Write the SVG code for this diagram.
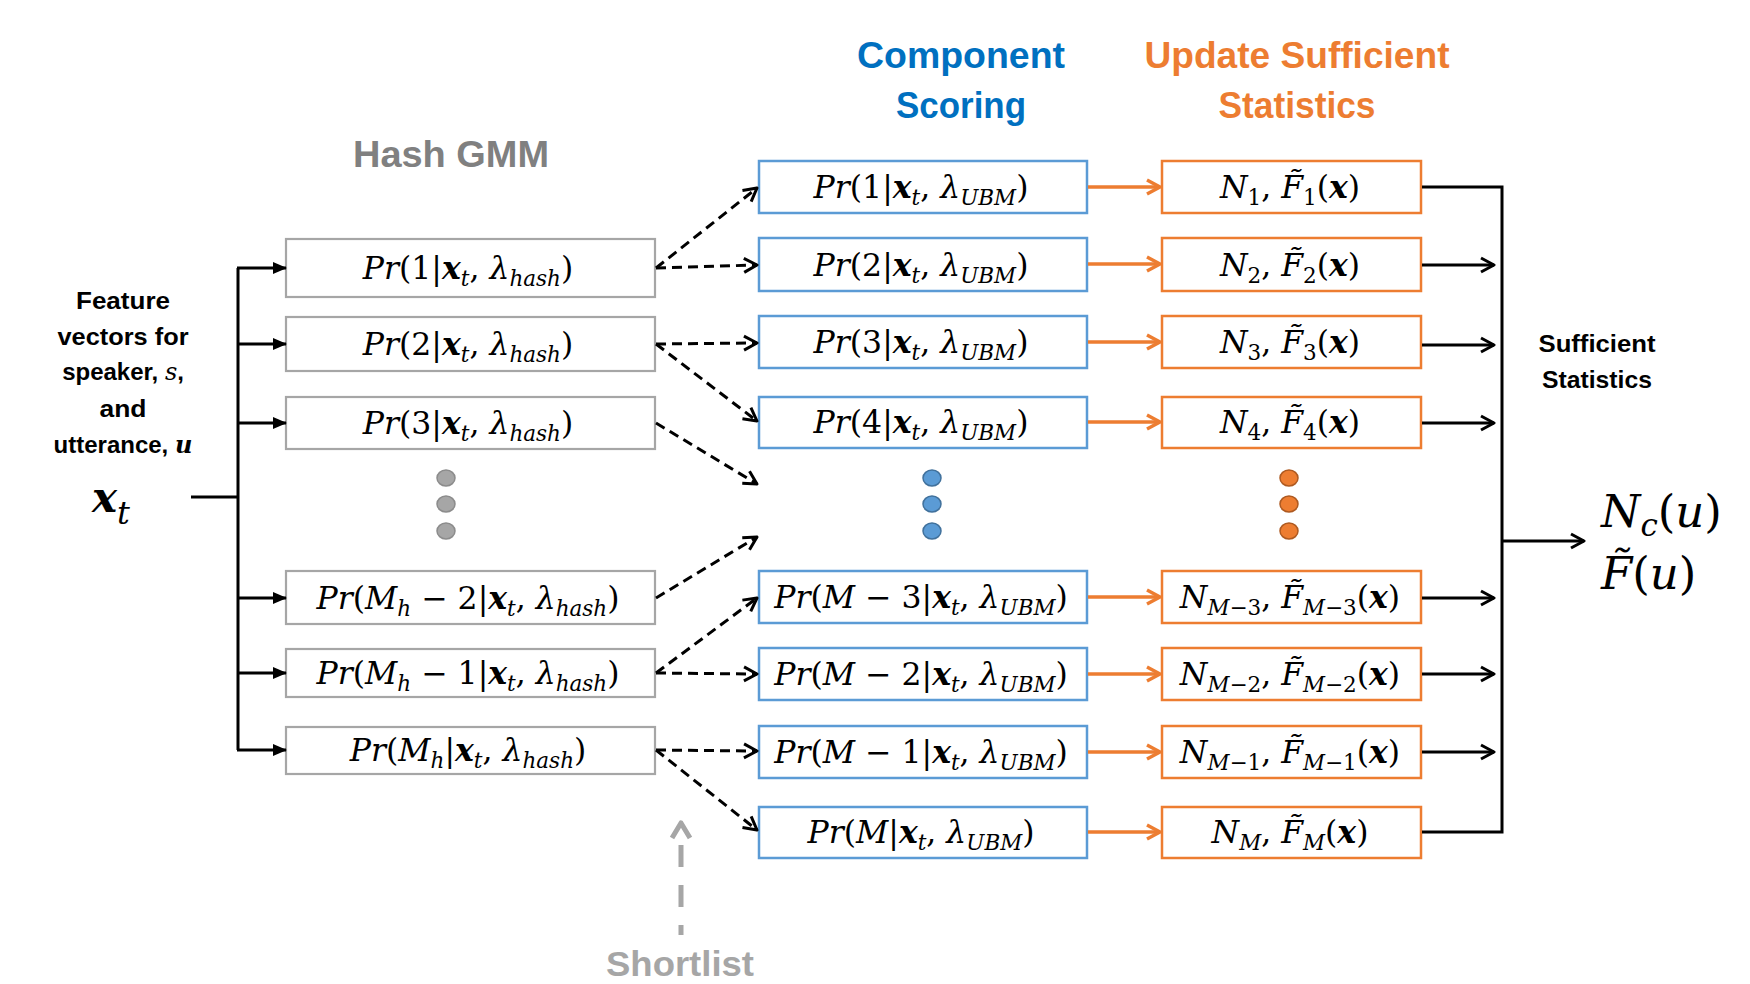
<svg xmlns="http://www.w3.org/2000/svg" width="1750" height="984" viewBox="0 0 1750 984">
  <style>
    .hb { fill: #fff; stroke: #A6A6A6; stroke-width: 2.2; }
    .ub { fill: #fff; stroke: #5B9BD5; stroke-width: 2.5; }
    .sb { fill: #fff; stroke: #ED7D31; stroke-width: 2.5; }
    .m { font-family: "DejaVu Serif", "Liberation Serif", serif; font-style: italic; font-size: 31.5px; fill: #000; text-anchor: middle; }
    .n { font-style: normal; }
    .b { font-weight: bold; }
    .s { font-size: 21.5px; }
    .lbl { font-family: "Liberation Sans", Arial, sans-serif; font-weight: bold; text-anchor: middle; }
    .blk { fill: none; stroke: #000; stroke-width: 3; }
    .dash { fill: none; stroke: #000; stroke-width: 3; stroke-dasharray: 10 6; }
    .org { fill: none; stroke: #ED7D31; stroke-width: 3.5; }
  </style>
  <defs>
    <marker id="tri" markerUnits="userSpaceOnUse" viewBox="0 0 14 14" markerWidth="14" markerHeight="14" refX="13" refY="7" orient="auto">
      <path d="M0,1 L14,7 L0,13 z" fill="#000"/>
    </marker>
    <marker id="vBlack" markerUnits="userSpaceOnUse" viewBox="0 0 18 18" markerWidth="18" markerHeight="18" refX="16" refY="9" orient="auto">
      <path d="M3,2 L16,9 L3,16" fill="none" stroke="#000" stroke-width="3" stroke-linejoin="round" stroke-dasharray="none"/>
    </marker>
    <marker id="vOrange" markerUnits="userSpaceOnUse" viewBox="0 0 18 18" markerWidth="18" markerHeight="18" refX="16" refY="9" orient="auto">
      <path d="M3,2 L16,9 L3,16" fill="none" stroke="#ED7D31" stroke-width="3.5" stroke-linejoin="round"/>
    </marker>
  </defs>

  <rect width="1750" height="984" fill="#fff"/>

  <!-- column headings -->
  <g id="titles">
    <text class="lbl" x="451" y="167" font-size="37" fill="#808080" textLength="196" lengthAdjust="spacingAndGlyphs">Hash GMM</text>
    <text class="lbl" x="961" y="68" font-size="36" fill="#0070C0" textLength="208" lengthAdjust="spacingAndGlyphs">Component</text>
    <text class="lbl" x="961" y="118" font-size="36" fill="#0070C0" textLength="130" lengthAdjust="spacingAndGlyphs">Scoring</text>
    <text class="lbl" x="1297" y="68" font-size="36" fill="#ED7D31" textLength="305" lengthAdjust="spacingAndGlyphs">Update Sufficient</text>
    <text class="lbl" x="1297" y="118" font-size="36" fill="#ED7D31" textLength="157" lengthAdjust="spacingAndGlyphs">Statistics</text>
  </g>

  <!-- input description -->
  <g id="input">
    <text class="lbl" x="123" y="309" font-size="24" textLength="94" lengthAdjust="spacingAndGlyphs">Feature</text>
    <text class="lbl" x="123" y="345" font-size="24" textLength="131" lengthAdjust="spacingAndGlyphs">vectors for</text>
    <text class="lbl" x="123" y="380" font-size="24">speaker, <tspan font-family="DejaVu Serif, serif" font-style="italic" font-weight="normal">s</tspan>,</text>
    <text class="lbl" x="123" y="417" font-size="24" textLength="47" lengthAdjust="spacingAndGlyphs">and</text>
    <text class="lbl" x="123" y="453" font-size="24">utterance, <tspan font-family="DejaVu Serif, serif" font-style="italic">u</tspan></text>
    <text x="92" y="512" font-family="DejaVu Serif, serif" font-style="italic" font-weight="bold" font-size="42">x<tspan font-weight="normal" font-size="32" dy="12">t</tspan></text>
  </g>

  <!-- hash GMM components -->
  <g id="hash1">
    <rect class="hb" x="286" y="239" width="369" height="58"/>
    <text class="m" x="468" y="279">Pr<tspan class="n">(1|</tspan><tspan class="b">x</tspan><tspan class="s" dy="7">t</tspan><tspan class="n" dy="-7">, </tspan>λ<tspan class="s" dy="7">hash</tspan><tspan class="n" dy="-7">)</tspan></text>
  </g>
  <g id="hash2">
    <rect class="hb" x="286" y="317" width="369" height="54"/>
    <text class="m" x="468" y="355">Pr<tspan class="n">(2|</tspan><tspan class="b">x</tspan><tspan class="s" dy="7">t</tspan><tspan class="n" dy="-7">, </tspan>λ<tspan class="s" dy="7">hash</tspan><tspan class="n" dy="-7">)</tspan></text>
  </g>
  <g id="hash3">
    <rect class="hb" x="286" y="397" width="369" height="52"/>
    <text class="m" x="468" y="434">Pr<tspan class="n">(3|</tspan><tspan class="b">x</tspan><tspan class="s" dy="7">t</tspan><tspan class="n" dy="-7">, </tspan>λ<tspan class="s" dy="7">hash</tspan><tspan class="n" dy="-7">)</tspan></text>
  </g>
  <g id="hashDots" fill="#A6A6A6" stroke="#8C8C8C" stroke-width="1.5">
    <ellipse cx="446" cy="478" rx="9" ry="8"/>
    <ellipse cx="446" cy="504" rx="9" ry="8"/>
    <ellipse cx="446" cy="531" rx="9" ry="8"/>
  </g>
  <g id="hashMh2">
    <rect class="hb" x="286" y="571" width="369" height="53"/>
    <text class="m" x="468" y="609">Pr<tspan class="n">(</tspan>M<tspan class="s" dy="7">h</tspan><tspan class="n" dy="-7"> − 2|</tspan><tspan class="b">x</tspan><tspan class="s" dy="7">t</tspan><tspan class="n" dy="-7">, </tspan>λ<tspan class="s" dy="7">hash</tspan><tspan class="n" dy="-7">)</tspan></text>
  </g>
  <g id="hashMh1">
    <rect class="hb" x="286" y="649" width="369" height="48"/>
    <text class="m" x="468" y="684">Pr<tspan class="n">(</tspan>M<tspan class="s" dy="7">h</tspan><tspan class="n" dy="-7"> − 1|</tspan><tspan class="b">x</tspan><tspan class="s" dy="7">t</tspan><tspan class="n" dy="-7">, </tspan>λ<tspan class="s" dy="7">hash</tspan><tspan class="n" dy="-7">)</tspan></text>
  </g>
  <g id="hashMh">
    <rect class="hb" x="286" y="727" width="369" height="47"/>
    <text class="m" x="468" y="761">Pr<tspan class="n">(</tspan>M<tspan class="s" dy="7">h</tspan><tspan class="n" dy="-7">|</tspan><tspan class="b">x</tspan><tspan class="s" dy="7">t</tspan><tspan class="n" dy="-7">, </tspan>λ<tspan class="s" dy="7">hash</tspan><tspan class="n" dy="-7">)</tspan></text>
  </g>

  <!-- UBM component scoring -->
  <g id="ubm1">
    <rect class="ub" x="759" y="161" width="328" height="52"/>
    <text class="m" x="921" y="198">Pr<tspan class="n">(1|</tspan><tspan class="b">x</tspan><tspan class="s" dy="7">t</tspan><tspan class="n" dy="-7">, </tspan>λ<tspan class="s" dy="7">UBM</tspan><tspan class="n" dy="-7">)</tspan></text>
  </g>
  <g id="ubm2">
    <rect class="ub" x="759" y="238" width="328" height="53"/>
    <text class="m" x="921" y="276">Pr<tspan class="n">(2|</tspan><tspan class="b">x</tspan><tspan class="s" dy="7">t</tspan><tspan class="n" dy="-7">, </tspan>λ<tspan class="s" dy="7">UBM</tspan><tspan class="n" dy="-7">)</tspan></text>
  </g>
  <g id="ubm3">
    <rect class="ub" x="759" y="316" width="328" height="52"/>
    <text class="m" x="921" y="353">Pr<tspan class="n">(3|</tspan><tspan class="b">x</tspan><tspan class="s" dy="7">t</tspan><tspan class="n" dy="-7">, </tspan>λ<tspan class="s" dy="7">UBM</tspan><tspan class="n" dy="-7">)</tspan></text>
  </g>
  <g id="ubm4">
    <rect class="ub" x="759" y="397" width="328" height="51"/>
    <text class="m" x="921" y="433">Pr<tspan class="n">(4|</tspan><tspan class="b">x</tspan><tspan class="s" dy="7">t</tspan><tspan class="n" dy="-7">, </tspan>λ<tspan class="s" dy="7">UBM</tspan><tspan class="n" dy="-7">)</tspan></text>
  </g>
  <g id="ubmDots" fill="#5B9BD5" stroke="#41719C" stroke-width="1.5">
    <ellipse cx="932" cy="478" rx="9" ry="8"/>
    <ellipse cx="932" cy="504" rx="9" ry="8"/>
    <ellipse cx="932" cy="531" rx="9" ry="8"/>
  </g>
  <g id="ubmM3">
    <rect class="ub" x="759" y="571" width="328" height="52"/>
    <text class="m" x="921" y="608">Pr<tspan class="n">(</tspan>M<tspan class="n"> − 3|</tspan><tspan class="b">x</tspan><tspan class="s" dy="7">t</tspan><tspan class="n" dy="-7">, </tspan>λ<tspan class="s" dy="7">UBM</tspan><tspan class="n" dy="-7">)</tspan></text>
  </g>
  <g id="ubmM2">
    <rect class="ub" x="759" y="648" width="328" height="52"/>
    <text class="m" x="921" y="685">Pr<tspan class="n">(</tspan>M<tspan class="n"> − 2|</tspan><tspan class="b">x</tspan><tspan class="s" dy="7">t</tspan><tspan class="n" dy="-7">, </tspan>λ<tspan class="s" dy="7">UBM</tspan><tspan class="n" dy="-7">)</tspan></text>
  </g>
  <g id="ubmM1">
    <rect class="ub" x="759" y="726" width="328" height="52"/>
    <text class="m" x="921" y="763">Pr<tspan class="n">(</tspan>M<tspan class="n"> − 1|</tspan><tspan class="b">x</tspan><tspan class="s" dy="7">t</tspan><tspan class="n" dy="-7">, </tspan>λ<tspan class="s" dy="7">UBM</tspan><tspan class="n" dy="-7">)</tspan></text>
  </g>
  <g id="ubmM">
    <rect class="ub" x="759" y="807" width="328" height="51"/>
    <text class="m" x="921" y="843">Pr<tspan class="n">(</tspan>M<tspan class="n">|</tspan><tspan class="b">x</tspan><tspan class="s" dy="7">t</tspan><tspan class="n" dy="-7">, </tspan>λ<tspan class="s" dy="7">UBM</tspan><tspan class="n" dy="-7">)</tspan></text>
  </g>

  <!-- sufficient statistics accumulators -->
  <g id="stat1">
    <rect class="sb" x="1162" y="161" width="259" height="52"/>
    <text class="m" x="1290" y="198">N<tspan class="s n" dy="7">1</tspan><tspan class="n" dy="-7">, </tspan>F̃<tspan class="s n" dy="7">1</tspan><tspan class="n" dy="-7">(</tspan><tspan class="b">x</tspan><tspan class="n">)</tspan></text>
  </g>
  <g id="stat2">
    <rect class="sb" x="1162" y="238" width="259" height="53"/>
    <text class="m" x="1290" y="276">N<tspan class="s n" dy="7">2</tspan><tspan class="n" dy="-7">, </tspan>F̃<tspan class="s n" dy="7">2</tspan><tspan class="n" dy="-7">(</tspan><tspan class="b">x</tspan><tspan class="n">)</tspan></text>
  </g>
  <g id="stat3">
    <rect class="sb" x="1162" y="316" width="259" height="52"/>
    <text class="m" x="1290" y="353">N<tspan class="s n" dy="7">3</tspan><tspan class="n" dy="-7">, </tspan>F̃<tspan class="s n" dy="7">3</tspan><tspan class="n" dy="-7">(</tspan><tspan class="b">x</tspan><tspan class="n">)</tspan></text>
  </g>
  <g id="stat4">
    <rect class="sb" x="1162" y="397" width="259" height="51"/>
    <text class="m" x="1290" y="433">N<tspan class="s n" dy="7">4</tspan><tspan class="n" dy="-7">, </tspan>F̃<tspan class="s n" dy="7">4</tspan><tspan class="n" dy="-7">(</tspan><tspan class="b">x</tspan><tspan class="n">)</tspan></text>
  </g>
  <g id="statDots" fill="#ED7D31" stroke="#AE5A21" stroke-width="1.5">
    <ellipse cx="1289" cy="478" rx="9" ry="8"/>
    <ellipse cx="1289" cy="504" rx="9" ry="8"/>
    <ellipse cx="1289" cy="531" rx="9" ry="8"/>
  </g>
  <g id="statM3">
    <rect class="sb" x="1162" y="571" width="259" height="52"/>
    <text class="m" x="1290" y="608">N<tspan class="s" dy="7">M<tspan class="n">−3</tspan></tspan><tspan class="n" dy="-7">, </tspan>F̃<tspan class="s" dy="7">M<tspan class="n">−3</tspan></tspan><tspan class="n" dy="-7">(</tspan><tspan class="b">x</tspan><tspan class="n">)</tspan></text>
  </g>
  <g id="statM2">
    <rect class="sb" x="1162" y="648" width="259" height="52"/>
    <text class="m" x="1290" y="685">N<tspan class="s" dy="7">M<tspan class="n">−2</tspan></tspan><tspan class="n" dy="-7">, </tspan>F̃<tspan class="s" dy="7">M<tspan class="n">−2</tspan></tspan><tspan class="n" dy="-7">(</tspan><tspan class="b">x</tspan><tspan class="n">)</tspan></text>
  </g>
  <g id="statM1">
    <rect class="sb" x="1162" y="726" width="259" height="52"/>
    <text class="m" x="1290" y="763">N<tspan class="s" dy="7">M<tspan class="n">−1</tspan></tspan><tspan class="n" dy="-7">, </tspan>F̃<tspan class="s" dy="7">M<tspan class="n">−1</tspan></tspan><tspan class="n" dy="-7">(</tspan><tspan class="b">x</tspan><tspan class="n">)</tspan></text>
  </g>
  <g id="statM">
    <rect class="sb" x="1162" y="807" width="259" height="51"/>
    <text class="m" x="1290" y="843">N<tspan class="s" dy="7">M</tspan><tspan class="n" dy="-7">, </tspan>F̃<tspan class="s" dy="7">M</tspan><tspan class="n" dy="-7">(</tspan><tspan class="b">x</tspan><tspan class="n">)</tspan></text>
  </g>

  <!-- outputs -->
  <g id="sufficientLabel">
    <text class="lbl" x="1597" y="352" font-size="24" textLength="117" lengthAdjust="spacingAndGlyphs">Sufficient</text>
    <text class="lbl" x="1597" y="388" font-size="24" textLength="110" lengthAdjust="spacingAndGlyphs">Statistics</text>
  </g>
  <g id="result" font-family="DejaVu Serif, serif" font-style="italic" font-size="45">
    <text x="1601" y="527">N<tspan font-size="31" dy="9">c</tspan><tspan font-style="normal" dy="-9">(</tspan>u<tspan font-style="normal">)</tspan></text>
    <text x="1601" y="589">F̃<tspan font-style="normal">(</tspan>u<tspan font-style="normal">)</tspan></text>
  </g>
  <g id="shortlist">
    <path d="M681,845 V935" fill="none" stroke="#A6A6A6" stroke-width="5" stroke-dasharray="22 18"/>
    <path d="M672,838 L681,823 L690,838" fill="none" stroke="#A6A6A6" stroke-width="5" stroke-linejoin="round"/>
    <text class="lbl" x="680" y="976" font-size="35" fill="#A6A6A6" textLength="148" lengthAdjust="spacingAndGlyphs">Shortlist</text>
  </g>

  <!-- connectors -->
  <g id="connectors">
    <!-- input fan-out -->
    <path class="blk" d="M191,497 H238 M238,268 V750"/>
    <path class="blk" d="M237,268 H286" marker-end="url(#tri)"/>
    <path class="blk" d="M237,344 H286" marker-end="url(#tri)"/>
    <path class="blk" d="M237,423 H286" marker-end="url(#tri)"/>
    <path class="blk" d="M237,598 H286" marker-end="url(#tri)"/>
    <path class="blk" d="M237,673 H286" marker-end="url(#tri)"/>
    <path class="blk" d="M237,750 H286" marker-end="url(#tri)"/>

    <!-- shortlist selection -->
    <path class="dash" d="M656,268 L757,188" marker-end="url(#vBlack)"/>
    <path class="dash" d="M656,268 L757,265" marker-end="url(#vBlack)"/>
    <path class="dash" d="M656,344 L757,343" marker-end="url(#vBlack)"/>
    <path class="dash" d="M656,344 L757,421" marker-end="url(#vBlack)"/>
    <path class="dash" d="M656,423 L757,484" marker-end="url(#vBlack)"/>
    <path class="dash" d="M656,598 L757,537" marker-end="url(#vBlack)"/>
    <path class="dash" d="M656,673 L757,598" marker-end="url(#vBlack)"/>
    <path class="dash" d="M656,673 L757,674" marker-end="url(#vBlack)"/>
    <path class="dash" d="M656,750 L757,751" marker-end="url(#vBlack)"/>
    <path class="dash" d="M656,750 L757,830" marker-end="url(#vBlack)"/>

    <!-- scoring to statistics -->
    <path class="org" d="M1088,187 H1160" marker-end="url(#vOrange)"/>
    <path class="org" d="M1088,264 H1160" marker-end="url(#vOrange)"/>
    <path class="org" d="M1088,342 H1160" marker-end="url(#vOrange)"/>
    <path class="org" d="M1088,422 H1160" marker-end="url(#vOrange)"/>
    <path class="org" d="M1088,597 H1160" marker-end="url(#vOrange)"/>
    <path class="org" d="M1088,674 H1160" marker-end="url(#vOrange)"/>
    <path class="org" d="M1088,752 H1160" marker-end="url(#vOrange)"/>
    <path class="org" d="M1088,832 H1160" marker-end="url(#vOrange)"/>

    <!-- statistics collection -->
    <path class="blk" d="M1422,187 H1502 V832 H1422"/>
    <path class="blk" d="M1422,265 H1494" marker-end="url(#vBlack)"/>
    <path class="blk" d="M1422,345 H1494" marker-end="url(#vBlack)"/>
    <path class="blk" d="M1422,423 H1494" marker-end="url(#vBlack)"/>
    <path class="blk" d="M1422,598 H1494" marker-end="url(#vBlack)"/>
    <path class="blk" d="M1422,674 H1494" marker-end="url(#vBlack)"/>
    <path class="blk" d="M1422,752 H1494" marker-end="url(#vBlack)"/>
    <path class="blk" d="M1502,541 H1584" marker-end="url(#vBlack)"/>
  </g>
</svg>
